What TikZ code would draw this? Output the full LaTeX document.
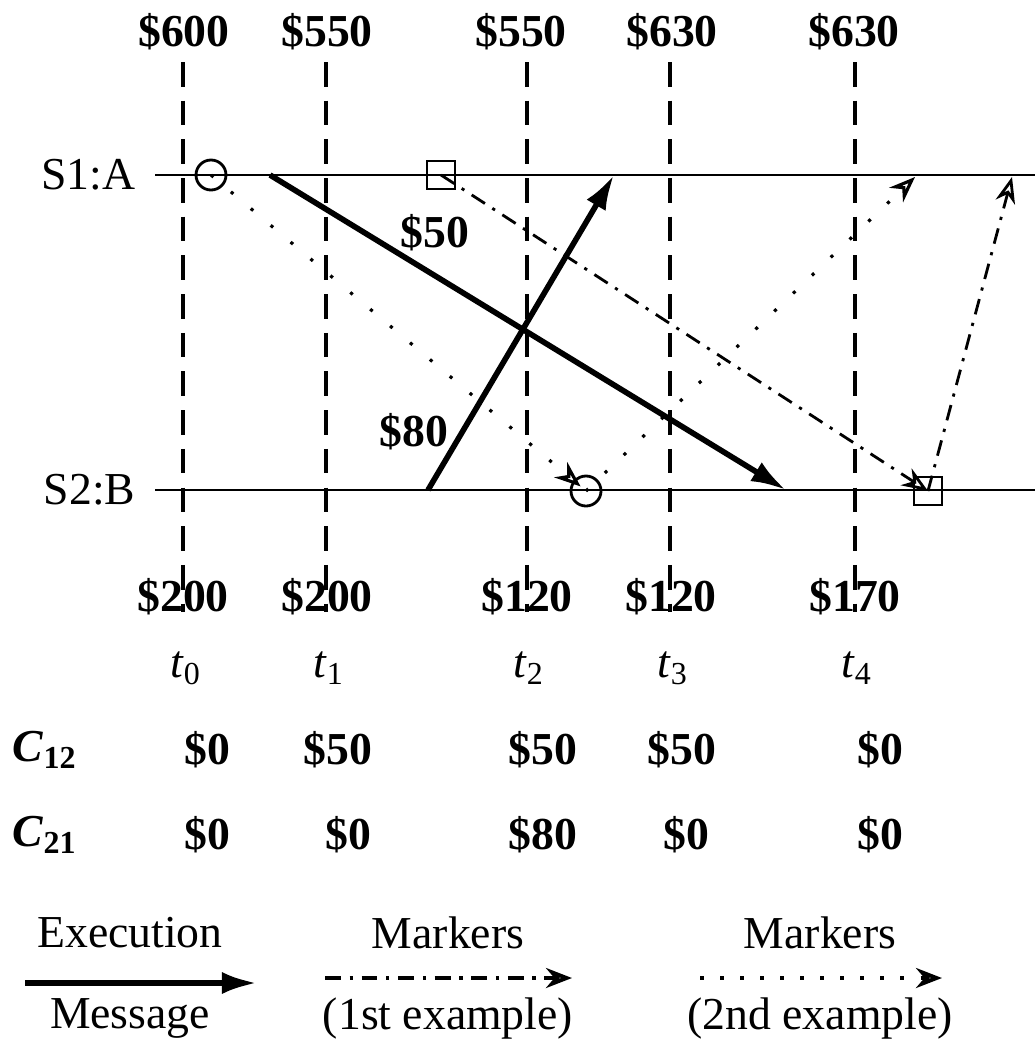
\documentclass[tikz,border=0pt]{standalone}
\usepackage{fontspec}
\setmainfont{Liberation Serif}
\usetikzlibrary{arrows.meta}

\begin{document}
\begin{tikzpicture}[
  x=0.01cm, y=-0.01cm,
  font=\fontsize{13}{15}\selectfont,
  site/.style={line width=0.8pt},
  cut/.style={line width=1pt,dash pattern=on 7pt off 4pt},
  msg/.style={line width=1.6pt,-{Latex[length=3.5mm,width=2.2mm]}},
  firstmark/.style={line width=0.8pt,dash pattern=on 4.5pt off 2.5pt on 0.9pt off 2.5pt,
    -{Stealth[open,length=2.6mm,width=2mm]}},
  secondmark/.style={line width=0.9pt,dash pattern=on 0.9pt off 6.5pt,
    -{Stealth[open,length=2.6mm,width=2mm]}},
  amount/.style={font=\fontsize{13}{15}\selectfont\bfseries,inner sep=0pt},
  label/.style={inner sep=0pt},
  circ/.style={draw,circle,line width=0.8pt,minimum size=0.3cm,inner sep=0pt},
  sq/.style={draw,rectangle,line width=0.8pt,minimum size=0.28cm,inner sep=0pt}
]
\useasboundingbox (0,0) rectangle (1035,1042);

% process lines
\coordinate (aleft) at (155,175);
\coordinate (aright) at (1035,175);
\coordinate (bleft) at (155,490);
\coordinate (bright) at (1035,490);
\draw[site] (aleft) -- (aright);
\draw[site] (bleft) -- (bright);
\node[label,anchor=east] (sa) at (136,175) {S1:A};
\node[label,anchor=east] (sb) at (136,490) {S2:B};

% cuts
\foreach \x/\i in {183/0,326/1,527/2,670/3,855/4}{
  \coordinate (cuttop\i) at (\x,62);
  \coordinate (cutbot\i) at (\x,612);
  \draw[cut] (cuttop\i) -- (cutbot\i);
}

% balances
\node[amount] (topa0) at (184,32) {\$600};
\node[amount] (topa1) at (327,32) {\$550};
\node[amount] (topa2) at (521,32) {\$550};
\node[amount] (topa3) at (672,32) {\$630};
\node[amount] (topa4) at (854,32) {\$630};
\node[amount] (botb0) at (183,597) {\$200};
\node[amount] (botb1) at (327,597) {\$200};
\node[amount] (botb2) at (527,597) {\$120};
\node[amount] (botb3) at (671,597) {\$120};
\node[amount] (botb4) at (855,597) {\$170};

% times
\node[label] (t0) at (186,668) {\textit{t}\textsubscript{0}};
\node[label] (t1) at (329,668) {\textit{t}\textsubscript{1}};
\node[label] (t2) at (529,668) {\textit{t}\textsubscript{2}};
\node[label] (t3) at (673,668) {\textit{t}\textsubscript{3}};
\node[label] (t4) at (857,668) {\textit{t}\textsubscript{4}};

% channels
\node[label] (c12) at (45,750) {\textbf{\textit{C}}\textsubscript{\textbf{12}}};
\node[amount] (c12a) at (207,750) {\$0};
\node[amount] (c12b) at (338,750) {\$50};
\node[amount] (c12c) at (543,750) {\$50};
\node[amount] (c12d) at (682,750) {\$50};
\node[amount] (c12e) at (880,750) {\$0};
\node[label] (c21) at (45,835) {\textbf{\textit{C}}\textsubscript{\textbf{21}}};
\node[amount] (c21a) at (207,835) {\$0};
\node[amount] (c21b) at (348,835) {\$0};
\node[amount] (c21c) at (543,835) {\$80};
\node[amount] (c21d) at (686,835) {\$0};
\node[amount] (c21e) at (880,835) {\$0};

% messages
\coordinate (m1s) at (270,175);
\coordinate (m1e) at (786,490);
\coordinate (m2s) at (428,490);
\coordinate (m2e) at (614,175);
\draw[msg] (m1s) -- (m1e);
\draw[msg] (m2s) -- (m2e);
\node[amount] (lab50) at (435,233) {\$50};
\node[amount] (lab80) at (414,432) {\$80};

% markers
\node[circ] (ca) at (211,175) {};
\node[circ] (cb) at (586,491) {};
\node[sq] (qa) at (441,175) {};
\node[sq] (qb) at (928,491) {};
\coordinate (d2end) at (915,177);
\coordinate (d1end) at (1012,177);
\draw[secondmark,shorten >=2pt] (ca.center) -- (cb.center);
\draw[secondmark] (cb.center) -- (d2end);
\draw[firstmark] (qa.center) -- (qb.center);
\draw[firstmark] (qb.center) -- (d1end);

% legend
\node[label] (lexec) at (130,933) {Execution};
\node[label] (lmsg) at (130,1018) {Message};
\node[label] (lmk1) at (448,933) {Markers};
\node[label] (lex1) at (448,1018) {(1st example)};
\node[label] (lmk2) at (820,933) {Markers};
\node[label] (lex2) at (820,1018) {(2nd example)};
\coordinate (la1) at (25,983);
\coordinate (la2) at (257,983);
\coordinate (lb1) at (325,978);
\coordinate (lb2) at (572,978);
\coordinate (lc1) at (700,978);
\coordinate (lc2) at (942,978);
\draw[msg] (la1) -- (la2);
\draw[firstmark,line width=1.1pt] (lb1) -- (lb2);
\draw[secondmark,line width=1.1pt,dash pattern=on 1.1pt off 4.6pt] (lc1) -- (lc2);
\end{tikzpicture}
\end{document}
